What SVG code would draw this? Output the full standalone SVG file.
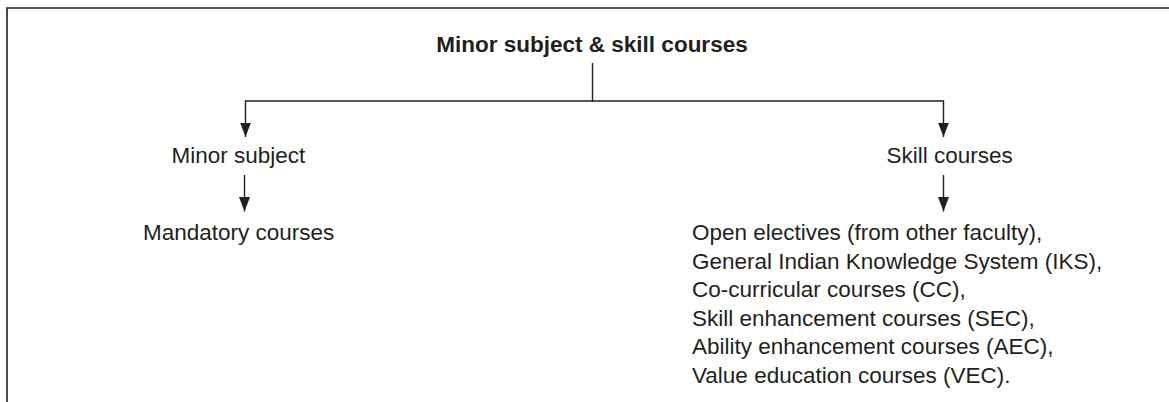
<svg xmlns="http://www.w3.org/2000/svg" width="1169" height="402" viewBox="0 0 1169 402">
<defs>
<style>
.t{font-family:"Liberation Sans",Arial,sans-serif;font-size:22.5px;fill:#231f20}
.b{font-weight:bold}
.c{stroke:#231f20;stroke-width:1.4;fill:none;marker-end:url(#ah)}
.n{stroke:#231f20;stroke-width:1.4;fill:none}
.f{stroke:#231f20;stroke-width:1.6;fill:none}
</style>
<marker id="ah" markerUnits="userSpaceOnUse" markerWidth="15" markerHeight="12" refX="14.5" refY="6" orient="auto" viewBox="0 0 15 12">
<path d="M0,0.5 L14.5,6 L0,11.5 Z" fill="#231f20"/>
</marker>
</defs>
<rect width="1169" height="402" fill="#fff"/>
<g id="frame">
<path class="f" d="M7,402 V8 H1169"/>
</g>
<g id="connectors">
<path class="n" d="M592.5,63 V101"/>
<path class="c" d="M593,101 H245.5 V137"/>
<path class="c" d="M592,101 H943.5 V137"/>
<path class="c" d="M244.5,175 V211.5"/>
<path class="c" d="M943.5,175 V211.5"/>
</g>
<g id="root">
<text class="t b" x="592" y="52" text-anchor="middle">Minor subject &amp; skill courses</text>
</g>
<g id="minor">
<text class="t" x="171.5" y="162.7">Minor subject</text>
</g>
<g id="mandatory">
<text class="t" x="143" y="240">Mandatory courses</text>
</g>
<g id="skill">
<text class="t" x="886.5" y="162.7">Skill courses</text>
</g>
<g id="skilllist">
<text class="t" x="692" y="240">Open electives (from other faculty),</text>
<text class="t" x="692" y="268.5">General Indian Knowledge System (IKS),</text>
<text class="t" x="692" y="297">Co-curricular courses (CC),</text>
<text class="t" x="692" y="325.5">Skill enhancement courses (SEC),</text>
<text class="t" x="692" y="354">Ability enhancement courses (AEC),</text>
<text class="t" x="692" y="382.5">Value education courses (VEC).</text>
</g>
</svg>
